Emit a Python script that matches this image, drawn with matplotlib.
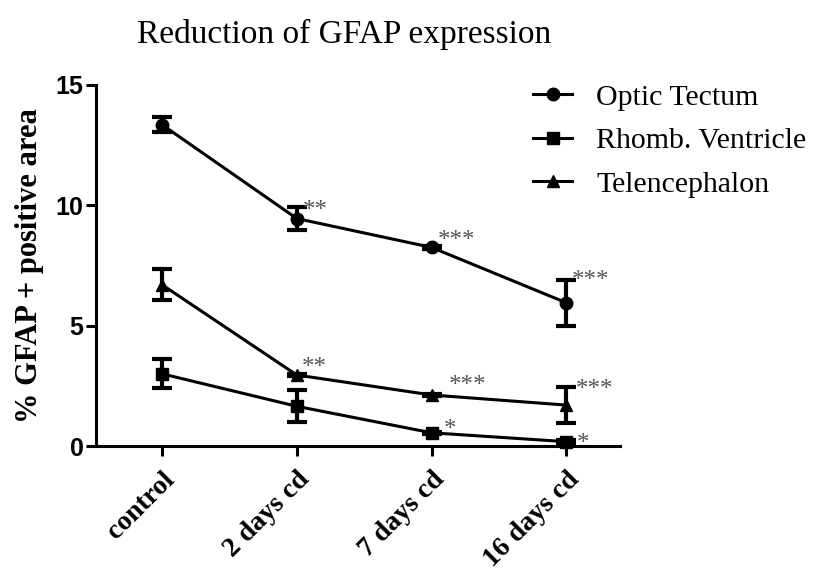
import matplotlib
matplotlib.use('Agg')
import matplotlib.pyplot as plt
from matplotlib.lines import Line2D
import numpy as np

# Data
groups = ['control', '2 days cd', '7 days cd', '16 days cd']

optic_mean = [13.35, 9.45, 8.25, 5.95]
optic_err = [0.32, 0.47, 0.05, 0.95]

rhomb_mean = [3.0, 1.65, 0.55, 0.18]
rhomb_err = [0.6, 0.66, 0.05, 0.05]

tele_mean = [6.7, 2.95, 2.12, 1.7]
tele_err = [0.65, 0.05, 0.05, 0.75]

optic_stars = ['', '**', '***', '***']
rhomb_stars = ['', '', '*', '*']
tele_stars = ['', '**', '***', '***']

# offsets of the significance marks in pixels (layout only)
optic_off = [(0, 0), (6, 14), (6, 12), (5, 28)]
rhomb_off = [(0, 0), (0, 0), (12, 9), (10, 4)]
tele_off = [(0, 0), (5, 13), (17, 15), (9, 21)]

serif = ['Liberation Serif', 'DejaVu Serif']
sans = ['Liberation Sans', 'DejaVu Sans']

fig = plt.figure(figsize=(8.13, 5.75), dpi=100)
ax = fig.add_axes([0.118, 0.2243, 0.645, 0.628])

x = np.arange(len(groups))

series = [
    ('Optic Tectum', optic_mean, optic_err, 'o', optic_stars, optic_off),
    ('Rhomb. Ventricle', rhomb_mean, rhomb_err, 's', rhomb_stars, rhomb_off),
    ('Telencephalon', tele_mean, tele_err, '^', tele_stars, tele_off),
]

handles = []
for name, mean, err, marker, stars, offs in series:
    ax.errorbar(x, mean, yerr=err, color='black', lw=2.2, marker=marker,
                markersize=9, capsize=7, capthick=3, elinewidth=3,
                clip_on=False, zorder=3)
    handles.append(Line2D([], [], color='black', lw=2.2, marker=marker,
                          markersize=9, label=name))
    for xi, yi, s, (dx, dy) in zip(x, mean, stars, offs):
        if s:
            ax.annotate(s, (xi, yi), xytext=(dx, dy - 12), textcoords='offset pixels',
                        ha='left', va='baseline', fontsize=18, color='#555555',
                        family=serif)

ax.set_xlim(-0.49, 3.4)
ax.set_ylim(0, 15)
ax.set_yticks([0, 5, 10, 15])
ax.set_xticks(x)
ax.set_xticklabels(groups, rotation=45, ha='right', rotation_mode='anchor',
                   fontsize=20, fontweight='bold', family=serif)
for lab in ax.get_yticklabels():
    lab.set_fontsize(18)
    lab.set_fontweight('bold')
    lab.set_family(sans)

for s in ['top', 'right']:
    ax.spines[s].set_visible(False)
for s in ['left', 'bottom']:
    ax.spines[s].set_linewidth(2.2)
ax.tick_params(axis='both', width=2.2, length=7, direction='out')
ax.tick_params(axis='x', pad=8)
ax.tick_params(axis='y', pad=2)

ax.set_ylabel('% GFAP + positive area', fontsize=22, fontweight='bold',
              family=serif, labelpad=8)

fig.text(0.423, 0.94, 'Reduction of GFAP expression', ha='center', va='center',
         fontsize=24, family=serif)

fig.legend(handles=handles, loc='upper left', bbox_to_anchor=(0.656, 0.854),
           frameon=False, prop={'family': serif, 'size': 21.5}, handlelength=1.3,
           labelspacing=0.55, handletextpad=0.8, borderpad=0, borderaxespad=0)

fig.savefig('out.png', dpi=100)
